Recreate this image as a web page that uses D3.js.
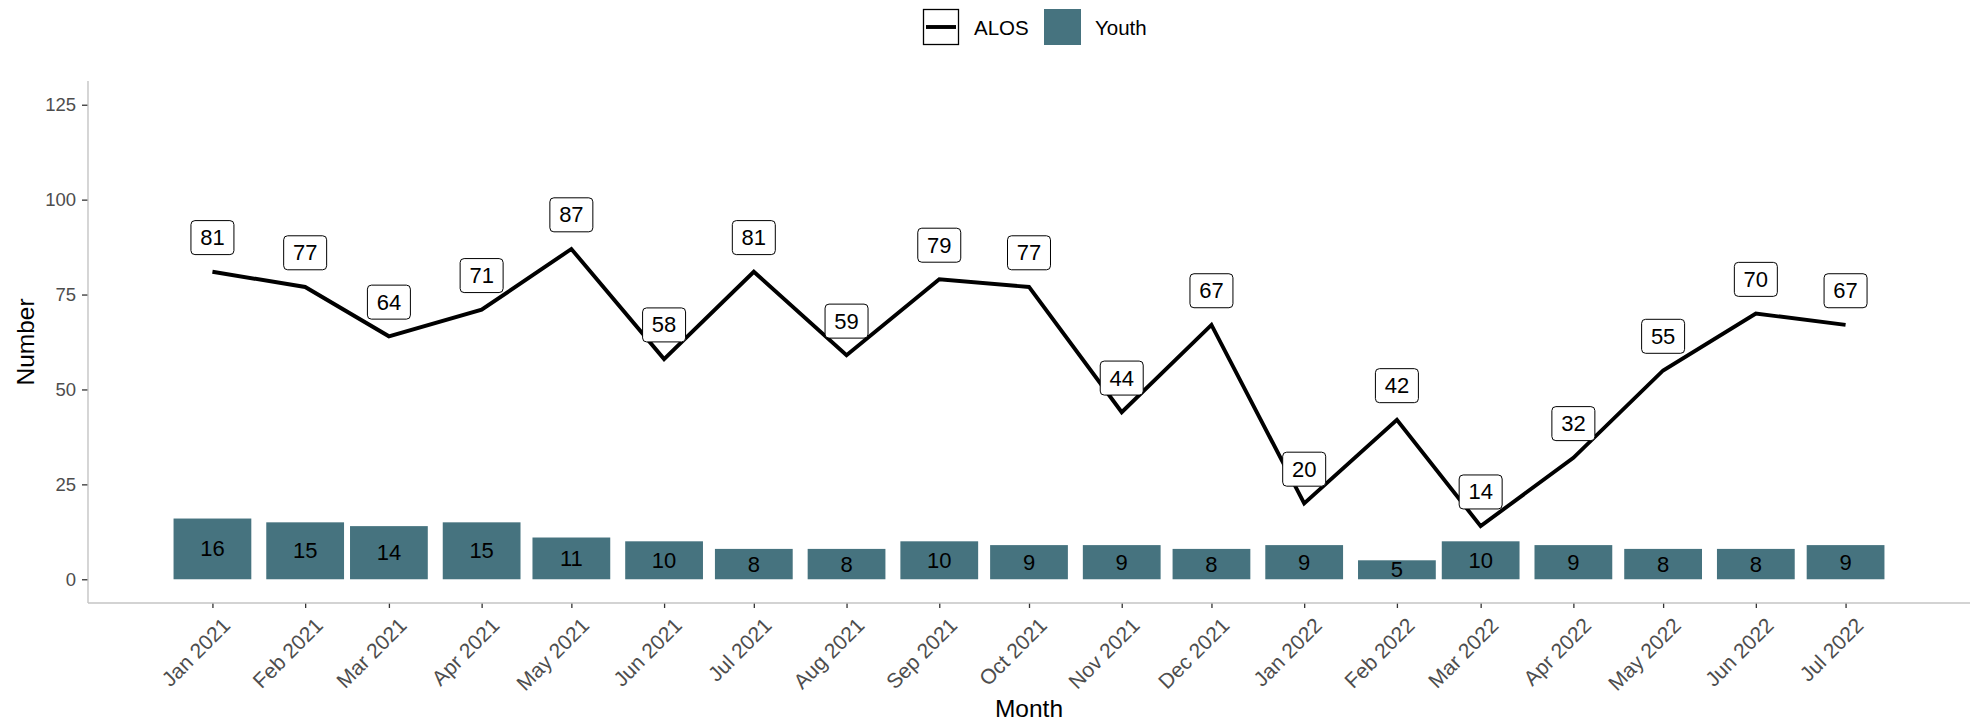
<!DOCTYPE html>
<html>
<head>
<meta charset="utf-8">
<script src="https://cdn.jsdelivr.net/npm/d3@7"></script>
<style>
  html, body { margin: 0; padding: 0; background: #fff; }
  svg { display: block; font-family: "Liberation Sans", Arial, sans-serif; }
</style>
</head>
<body>
<svg id="chart" width="1974" height="723"></svg>
<script>
// ---- data ----
const months = ["2021-01","2021-02","2021-03","2021-04","2021-05","2021-06","2021-07","2021-08","2021-09","2021-10",
                "2021-11","2021-12","2022-01","2022-02","2022-03","2022-04","2022-05","2022-06","2022-07"];
const alos  = [81, 77, 64, 71, 87, 58, 81, 59, 79, 77, 44, 67, 20, 42, 14, 32, 55, 70, 67];
const youth = [16, 15, 14, 15, 11, 10, 8, 8, 10, 9, 9, 8, 9, 5, 10, 9, 8, 8, 9];
const yTicks = [0, 25, 50, 75, 100, 125];
const seriesNames = ["ALOS", "Youth"];
const xTitle = "Month";
const yTitle = "Number";

// ---- setup ----
const panel = { left: 88, right: 1970, top: 81, bottom: 603 };
const barColor = "#46737F";
const dayMs = 86400000;
const barDays = 26;

const parse = d3.utcParse("%Y-%m");
const dates = months.map(parse);
const data = dates.map((d, i) => ({ date: d, alos: alos[i], youth: youth[i] }));

// x domain: bar extents expanded by 5%
const xmin = +d3.min(dates) - barDays / 2 * dayMs;
const xmax = +d3.max(dates) + barDays / 2 * dayMs;
const xpad = (xmax - xmin) * 0.05;
const x = d3.scaleUtc()
  .domain([new Date(xmin - xpad), new Date(xmax + xpad)])
  .range([panel.left, panel.right]);

// y domain: 0..125 expanded by 5%
const ypad = (125 - 0) * 0.05;
const y = d3.scaleLinear()
  .domain([0 - ypad, 125 + ypad])
  .range([panel.bottom, panel.top]);

const svg = d3.select("#chart");

// ---- bars ----
const barW = x(new Date(+dates[0] + barDays * dayMs)) - x(dates[0]);
svg.append("g").selectAll("rect").data(data).join("rect")
  .attr("x", d => x(d.date) - barW / 2)
  .attr("width", barW)
  .attr("y", d => y(d.youth))
  .attr("height", d => y(0) - y(d.youth))
  .attr("fill", barColor);

svg.append("g").selectAll("text").data(data).join("text")
  .attr("x", d => x(d.date))
  .attr("y", d => y(d.youth / 2))
  .attr("text-anchor", "middle")
  .attr("dominant-baseline", "central")
  .attr("font-size", 22)
  .attr("fill", "#000")
  .text(d => d.youth);

// ---- line ----
const line = d3.line().x(d => x(d.date)).y(d => y(d.alos));
svg.append("path").datum(data)
  .attr("d", line)
  .attr("fill", "none")
  .attr("stroke", "#000")
  .attr("stroke-width", 3.9)
  .attr("stroke-linejoin", "miter");

// ---- labels for line ----
const nudge = 9;
const lab = svg.append("g").selectAll("g").data(data).join("g")
  .attr("transform", d => `translate(${x(d.date)},${y(d.alos + nudge)})`);
lab.each(function(d) {
  const g = d3.select(this);
  const t = g.append("text")
    .attr("text-anchor", "middle")
    .attr("dominant-baseline", "central")
    .attr("font-size", 22)
    .attr("fill", "#000")
    .text(d.alos);
  const w = t.node().getComputedTextLength() + 18.5;
  const h = 34;
  g.insert("rect", "text")
    .attr("x", -w / 2).attr("y", -h / 2)
    .attr("width", w).attr("height", h)
    .attr("rx", 4).attr("ry", 4)
    .attr("fill", "#fff")
    .attr("stroke", "#000")
    .attr("stroke-width", 1);
});

// ---- axes ----
const axisLineColor = "#C4C4C4";
const yAxis = svg.append("g")
  .attr("transform", `translate(${panel.left},0)`)
  .call(d3.axisLeft(y).tickValues(yTicks).tickSize(6).tickSizeOuter(0).tickPadding(6));
yAxis.select(".domain").remove();
yAxis.append("line")
  .attr("x1", 0).attr("x2", 0).attr("y1", panel.top).attr("y2", panel.bottom)
  .attr("stroke", axisLineColor).attr("stroke-width", 1.4);
yAxis.selectAll(".tick line").attr("stroke", "#333").attr("stroke-width", 1.3);
yAxis.selectAll(".tick text")
  .attr("font-size", 18.5)
  .attr("fill", "#4D4D4D")
  .attr("font-family", "Liberation Sans, Arial, sans-serif");

const xAxis = svg.append("g")
  .attr("transform", `translate(0,${panel.bottom})`)
  .call(d3.axisBottom(x).tickValues(dates).tickFormat(d3.utcFormat("%b %Y")).tickSize(5).tickSizeOuter(0));
xAxis.select(".domain").remove();
xAxis.append("line")
  .attr("x1", panel.left).attr("x2", panel.right).attr("y1", 0).attr("y2", 0)
  .attr("stroke", axisLineColor).attr("stroke-width", 1.4);
xAxis.selectAll(".tick line").attr("stroke", "#333").attr("stroke-width", 1.3);
xAxis.selectAll(".tick text")
  .attr("font-size", 21)
  .attr("fill", "#4D4D4D")
  .attr("font-family", "Liberation Sans, Arial, sans-serif")
  .attr("text-anchor", "end")
  .attr("dy", "0.72em")
  .attr("y", 0)
  .attr("transform", "translate(8,13) rotate(-45)");

// ---- axis titles ----
svg.append("text")
  .attr("x", (panel.left + panel.right) / 2)
  .attr("y", 717)
  .attr("text-anchor", "middle")
  .attr("font-size", 24.5)
  .attr("fill", "#000")
  .text(xTitle);

svg.append("text")
  .attr("transform", `translate(25,${(panel.top + panel.bottom) / 2}) rotate(-90)`)
  .attr("text-anchor", "middle")
  .attr("dominant-baseline", "central")
  .attr("font-size", 24.5)
  .attr("fill", "#000")
  .text(yTitle);

// ---- legend ----
const legend = svg.append("g");
const keyS = 36;
const legendItems = [
  { name: seriesNames[0], type: "line", x: 923 },
  { name: seriesNames[1], type: "bar", x: 1044 }
];
legendItems.forEach(it => {
  const g = legend.append("g").attr("transform", `translate(${it.x},9)`);
  if (it.type === "line") {
    g.append("rect").attr("x", 0.5).attr("y", 0.5).attr("width", keyS - 1).attr("height", keyS - 1)
      .attr("fill", "#fff").attr("stroke", "#000").attr("stroke-width", 1.3);
    g.append("line").attr("x1", 3).attr("x2", keyS - 3).attr("y1", keyS / 2).attr("y2", keyS / 2)
      .attr("stroke", "#000").attr("stroke-width", 3.9);
  } else {
    g.append("rect").attr("x", 0).attr("y", 0).attr("width", keyS + 1).attr("height", keyS)
      .attr("fill", barColor);
  }
  g.append("text")
    .attr("x", 51)
    .attr("y", keyS / 2)
    .attr("dominant-baseline", "central")
    .attr("font-size", 20.5)
    .attr("fill", "#000")
    .text(it.name);
});
</script>
</body>
</html>
